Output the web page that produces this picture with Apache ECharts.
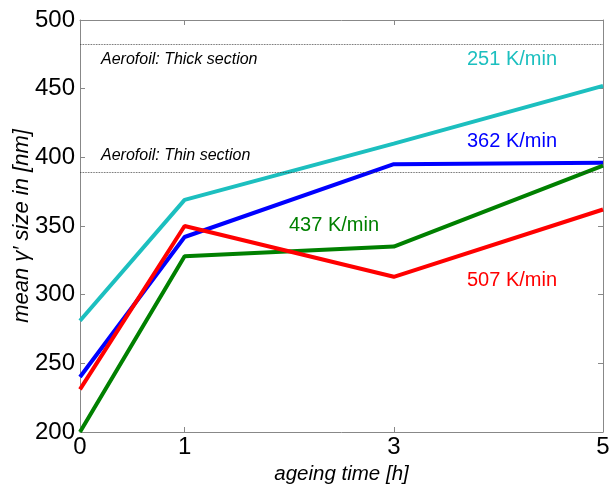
<!DOCTYPE html>
<html>
<head>
<meta charset="utf-8">
<script src="https://cdn.jsdelivr.net/npm/echarts@6/dist/echarts.min.js"></script>
<style>
  html, body { margin: 0; padding: 0; background: #fff; }
  #chart { width: 609px; height: 489px; }
</style>
</head>
<body>
<div id="chart"></div>
<script>
// ageing time [h]
const ageingTimes = [0, 1, 3, 5]
const xTickValues = [0, 1, 3, 5]
const yTickValues = [200, 250, 300, 350, 400, 450, 500]

// mean gamma' size [nm] per cooling rate
const rate251 = [281, 369, 410, 452]
const rate362 = [240, 342, 395, 396]
const rate437 = [200, 328, 335, 394]
const rate507 = [231, 350, 313, 362]

// aerofoil reference levels
const thickSection = 482.5
const thinSection = 389

const chart = echarts.init(document.getElementById('chart'))

const axisGrey = '#888'
const pairs = vals => ageingTimes.map((t, i) => [t, vals[i]])

const lineSeries = (name, vals, color) => ({
  name,
  type: 'line',
  data: pairs(vals),
  symbol: 'none',
  lineStyle: { color, width: 4 },
  z: 3
})

const option = {
  animation: false,
  backgroundColor: '#fff',
  grid: { left: 80, right: 6, top: 20, bottom: 57, outerBoundsMode: 'none', containLabel: false },
  xAxis: [
    {
      type: 'value',
      min: 0,
      max: 5,
      name: 'ageing time [h]',
      nameLocation: 'middle',
      nameGap: 31,
      nameTextStyle: { fontSize: 20.5, fontStyle: 'italic', color: '#000', fontFamily: 'Arial, Liberation Sans' },
      axisLine: { show: true, lineStyle: { color: axisGrey } },
      axisTick: { show: true, inside: true, length: 5, customValues: xTickValues.slice(1, 3), lineStyle: { color: axisGrey } },
      axisLabel: { customValues: xTickValues, fontSize: 24, color: '#000', margin: 3, fontFamily: 'Arial, Liberation Sans' },
      splitLine: { show: false }
    },
    {
      type: 'value',
      min: 0,
      max: 5,
      position: 'top',
      axisLine: { show: true, onZero: false, lineStyle: { color: axisGrey } },
      axisTick: { show: true, inside: true, length: 5, customValues: xTickValues.slice(1, 3), lineStyle: { color: axisGrey } },
      axisLabel: { show: false },
      splitLine: { show: false }
    }
  ],
  yAxis: [
    {
      type: 'value',
      min: 200,
      max: 500,
      interval: 50,
      name: 'mean \u03B3\u2032 size in [nm]',
      nameLocation: 'middle',
      nameGap: 47,
      nameMoveOverlap: false,
      nameTextStyle: { fontSize: 22, fontStyle: 'italic', color: '#000', fontFamily: 'Arial, Liberation Sans' },
      axisLine: { show: true, lineStyle: { color: axisGrey } },
      axisTick: { show: true, inside: true, length: 5, lineStyle: { color: axisGrey } },
      axisLabel: { fontSize: 24, color: '#000', margin: 5, fontFamily: 'Arial, Liberation Sans' },
      splitLine: { show: false }
    },
    {
      type: 'value',
      min: 200,
      max: 500,
      interval: 50,
      position: 'right',
      axisLine: { show: true, onZero: false, lineStyle: { color: axisGrey } },
      axisTick: { show: true, inside: true, length: 5, lineStyle: { color: axisGrey } },
      axisLabel: { show: false },
      splitLine: { show: false }
    }
  ],
  series: [
    {
      name: 'aerofoil',
      type: 'line',
      data: [],
      markLine: {
        silent: true,
        symbol: 'none',
        label: { show: false },
        lineStyle: { color: '#333', type: 'dotted', width: 0.8 },
        data: [{ yAxis: thickSection }, { yAxis: thinSection }]
      }
    },
    lineSeries('251 K/min', rate251, '#1cbfbf'),
    lineSeries('362 K/min', rate362, '#0000ff'),
    lineSeries('437 K/min', rate437, '#008000'),
    lineSeries('507 K/min', rate507, '#ff0000')
  ],
  graphic: [
    { type: 'text', left: 101, top: 52, style: { text: 'Aerofoil: Thick section', font: 'italic 16px Arial, Liberation Sans', fill: '#000' } },
    { type: 'text', left: 101, top: 148, style: { text: 'Aerofoil: Thin section', font: 'italic 16px Arial, Liberation Sans', fill: '#000' } },
    { type: 'text', left: 467, top: 49, style: { text: '251 K/min', font: '20px Arial, Liberation Sans', fill: '#1cbfbf' } },
    { type: 'text', left: 467, top: 131, style: { text: '362 K/min', font: '20px Arial, Liberation Sans', fill: '#0000ff' } },
    { type: 'text', left: 289, top: 215, style: { text: '437 K/min', font: '20px Arial, Liberation Sans', fill: '#008000' } },
    { type: 'text', left: 467, top: 270, style: { text: '507 K/min', font: '20px Arial, Liberation Sans', fill: '#ff0000' } }
  ]
}

chart.setOption(option)
</script>
</body>
</html>
